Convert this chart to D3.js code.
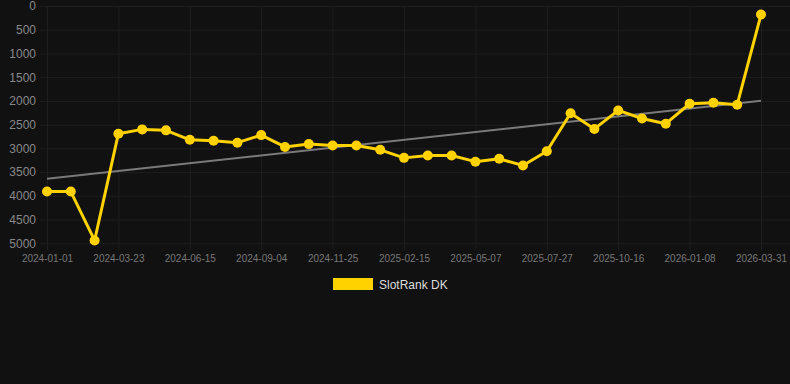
<!DOCTYPE html>
<html>
<head>
<meta charset="utf-8">
<script src="https://cdn.jsdelivr.net/npm/d3@7"></script>
<style>
  html, body { margin: 0; padding: 0; background: #111111; }
  svg { display: block; }
</style>
</head>
<body>
<div id="chart"></div>
<script>
// Dates (only every 3rd one is printed on the axis)
const dates = [
  "2024-01-01", "2024-01-28", "2024-02-25", "2024-03-23", "2024-04-19", "2024-05-17",
  "2024-06-15", "2024-07-12", "2024-08-08", "2024-09-04", "2024-10-01", "2024-10-28",
  "2024-11-25", "2024-12-22", "2025-01-19", "2025-02-15", "2025-03-14", "2025-04-10",
  "2025-05-07", "2025-06-03", "2025-06-30", "2025-07-27", "2025-08-23", "2025-09-19",
  "2025-10-16", "2025-11-12", "2025-12-10", "2026-01-08", "2026-02-04", "2026-03-03",
  "2026-03-31"
];
const seriesName = "SlotRank DK";
const ranks = [
  3910, 3910, 4940, 2690, 2600, 2620, 2820, 2840, 2880, 2720,
  2970, 2910, 2940, 2940, 3030, 3200, 3150, 3150, 3280, 3220,
  3360, 3060, 2260, 2590, 2200, 2370, 2480, 2060, 2040, 2080,
  180
];
const yTicks = [0, 500, 1000, 1500, 2000, 2500, 3000, 3500, 4000, 4500, 5000];

const width = 790, height = 384;
const gold = "#ffd200";
const gridColor = "#1e1e1e";

const x = d3.scalePoint().domain(d3.range(dates.length)).range([47, 761]);
const y = d3.scaleLinear().domain([0, 5000]).range([6, 243.3]);

// linear regression trend
const n = ranks.length;
const mx = d3.mean(d3.range(n)), my = d3.mean(ranks);
const slope = d3.sum(ranks, (v, i) => (i - mx) * (v - my)) / d3.sum(d3.range(n), i => (i - mx) ** 2);
const trend = i => my + slope * (i - mx);

const svg = d3.select("#chart").append("svg")
  .attr("width", width).attr("height", height)
  .style("font-family", "Arial, 'Liberation Sans', Helvetica, sans-serif");

svg.append("rect").attr("width", width).attr("height", height).attr("fill", "#111111");

// y axis: grid + labels
const yAxis = svg.append("g").attr("transform", "translate(40,0)")
  .call(d3.axisLeft(y).tickValues(yTicks).tickSize(-(width - 40)).tickPadding(4).tickFormat(d3.format("d")));
yAxis.select(".domain").remove();
yAxis.selectAll(".tick line").attr("stroke", gridColor).attr("stroke-width", 1);
yAxis.selectAll(".tick text").attr("fill", "#888").attr("font-size", 12);

// x axis: grid on every 3rd label
const shown = d3.range(0, dates.length, 3);
const xAxis = svg.append("g").attr("transform", "translate(0,250)")
  .call(d3.axisBottom(x).tickValues(shown).tickSize(-244).tickPadding(5).tickFormat(i => dates[i]));
xAxis.select(".domain").remove();
xAxis.selectAll(".tick line").attr("stroke", gridColor).attr("stroke-width", 1);
xAxis.selectAll(".tick text").attr("fill", "#777").attr("font-size", 10);

// trend line
svg.append("line")
  .attr("x1", x(0)).attr("y1", y(trend(0)))
  .attr("x2", x(n - 1)).attr("y2", y(trend(n - 1)))
  .attr("stroke", "#7a7a7a").attr("stroke-width", 2);

// series
svg.append("path")
  .datum(ranks)
  .attr("fill", "none")
  .attr("stroke", gold)
  .attr("stroke-width", 3)
  .attr("stroke-linejoin", "round")
  .attr("d", d3.line().x((d, i) => x(i)).y(d => y(d)));

svg.selectAll("circle.pt").data(ranks).join("circle")
  .attr("class", "pt")
  .attr("cx", (d, i) => x(i))
  .attr("cy", d => y(d))
  .attr("r", 5)
  .attr("fill", gold);

// legend
const lg = svg.append("g").attr("transform", "translate(333,278)");
lg.append("rect").attr("width", 40).attr("height", 12).attr("fill", gold);
lg.append("text").attr("x", 46).attr("y", 10.5)
  .attr("font-size", 12).attr("fill", "#dddddd").text(seriesName);
</script>
</body>
</html>
